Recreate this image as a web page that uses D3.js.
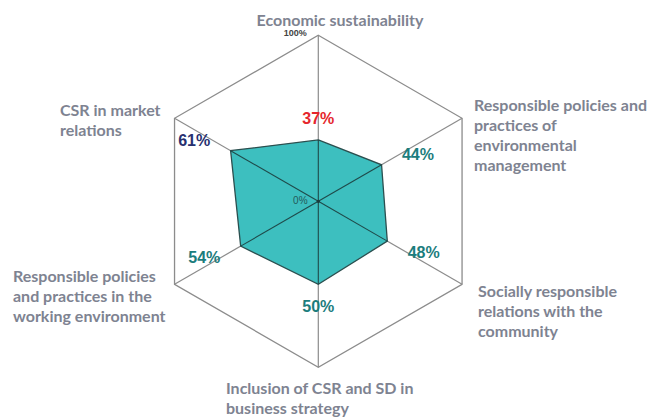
<!DOCTYPE html>
<html>
<head>
<meta charset="utf-8">
<style>
  body { margin: 0; background: #fff; }
  svg { display: block; }
</style>
</head>
<body>
<svg id="chart"></svg>
<script src="https://cdnjs.cloudflare.com/ajax/libs/d3/7.8.5/d3.min.js"></script>
<script>
// axes, clockwise from the top
var categories = [
  ["Economic sustainability"],
  ["Responsible policies and", "practices of", "environmental", "management"],
  ["Socially responsible", "relations with the", "community"],
  ["Inclusion of CSR and SD in", "business strategy"],
  ["Responsible policies", "and practices in the", "working environment"],
  ["CSR in market", "relations"]
];
var values = [37, 44, 48, 50, 54, 61];
var valueColors = ["#e5262c", "#1c7d7d", "#1c7d7d", "#1c7d7d", "#1c7d7d", "#27306f"];
var scaleTicks = ["0%", "100%"];

var width = 653, height = 418;
var cx = 318.3, cy = 201.3, R = 166;

// where each category block sits (x, first baseline, anchor)
var labelLayout = [
  {x: 340, y: 26, anchor: "middle"},
  {x: 474, y: 111, anchor: "start"},
  {x: 478, y: 297, anchor: "start"},
  {x: 226, y: 394, anchor: "start"},
  {x: 13, y: 282, anchor: "start"},
  {x: 60, y: 116, anchor: "start"}
];

var svg = d3.select("#chart").attr("width", width).attr("height", height);
var g = svg.append("g").attr("transform", "translate(" + cx + "," + cy + ")");

var r = d3.scaleLinear().domain([0, 100]).range([0, R]);
var angle = function(i) { return i * Math.PI * 2 / categories.length; };
function px(i, v) { return Math.sin(angle(i)) * r(v); }
function py(i, v) { return -Math.cos(angle(i)) * r(v); }

var radial = d3.lineRadial()
  .angle(function(d, i) { return angle(i); })
  .radius(function(d) { return r(d); })
  .curve(d3.curveLinearClosed);

// outer hexagon
g.append("path")
  .attr("d", radial(categories.map(function() { return 100; })))
  .attr("fill", "none")
  .attr("stroke", "#8c8c8c")
  .attr("stroke-width", 1.3);

// spokes
g.selectAll(".spoke").data(categories).enter().append("line")
  .attr("x1", 0).attr("y1", 0)
  .attr("x2", function(d, i) { return px(i, 100); })
  .attr("y2", function(d, i) { return py(i, 100); })
  .attr("stroke", "#8c8c8c")
  .attr("stroke-width", 1.2);

// data polygon
g.append("path")
  .attr("d", radial(values))
  .attr("fill", "#3dbfbf")
  .attr("stroke", "#2b4f4f")
  .attr("stroke-width", 1.3);

// spokes inside the filled area
g.selectAll(".inner").data(values).enter().append("line")
  .attr("x1", 0).attr("y1", 0)
  .attr("x2", function(d, i) { return px(i, d); })
  .attr("y2", function(d, i) { return py(i, d); })
  .attr("stroke", "#1f4a4a")
  .attr("stroke-width", 1.1);

g.append("circle").attr("r", 1.6).attr("fill", "#1a3a3a");

// scale labels
g.append("text")
  .attr("x", -18).attr("y", 3)
  .attr("text-anchor", "middle")
  .attr("font-family", "Liberation Sans, Arial, sans-serif")
  .attr("font-size", 10)
  .attr("fill", "#245a5a")
  .text(scaleTicks[0]);
g.append("text")
  .attr("x", -23).attr("y", r(100) * -1 + 1)
  .attr("text-anchor", "middle")
  .attr("font-family", "Liberation Sans, Arial, sans-serif")
  .attr("font-size", 9)
  .attr("font-weight", "bold")
  .attr("fill", "#444")
  .text(scaleTicks[1]);

// value labels, pushed out along each spoke
g.selectAll(".val").data(values).enter().append("text")
  .attr("x", function(d, i) { return px(i, d) + Math.sin(angle(i)) * 42; })
  .attr("y", function(d, i) { return py(i, d) - Math.cos(angle(i)) * 22 + 6; })
  .attr("text-anchor", "middle")
  .attr("font-family", "Liberation Sans, Arial, sans-serif")
  .attr("font-size", 16)
  .attr("font-weight", "bold")
  .attr("fill", function(d, i) { return valueColors[i]; })
  .text(function(d) { return d + "%"; });

// category labels
var lbl = svg.selectAll(".cat").data(categories).enter().append("text")
  .attr("x", function(d, i) { return labelLayout[i].x; })
  .attr("y", function(d, i) { return labelLayout[i].y; })
  .attr("text-anchor", function(d, i) { return labelLayout[i].anchor; })
  .attr("font-family", "Lato, Open Sans, sans-serif")
  .attr("font-size", 16)
  .attr("font-weight", "bold")
  .attr("fill", "#7e8391");
lbl.each(function(d, i) {
  var t = d3.select(this);
  d.forEach(function(line, j) {
    t.append("tspan")
      .attr("x", labelLayout[i].x)
      .attr("dy", j === 0 ? 0 : 20)
      .text(line);
  });
});
</script>
</body>
</html>
